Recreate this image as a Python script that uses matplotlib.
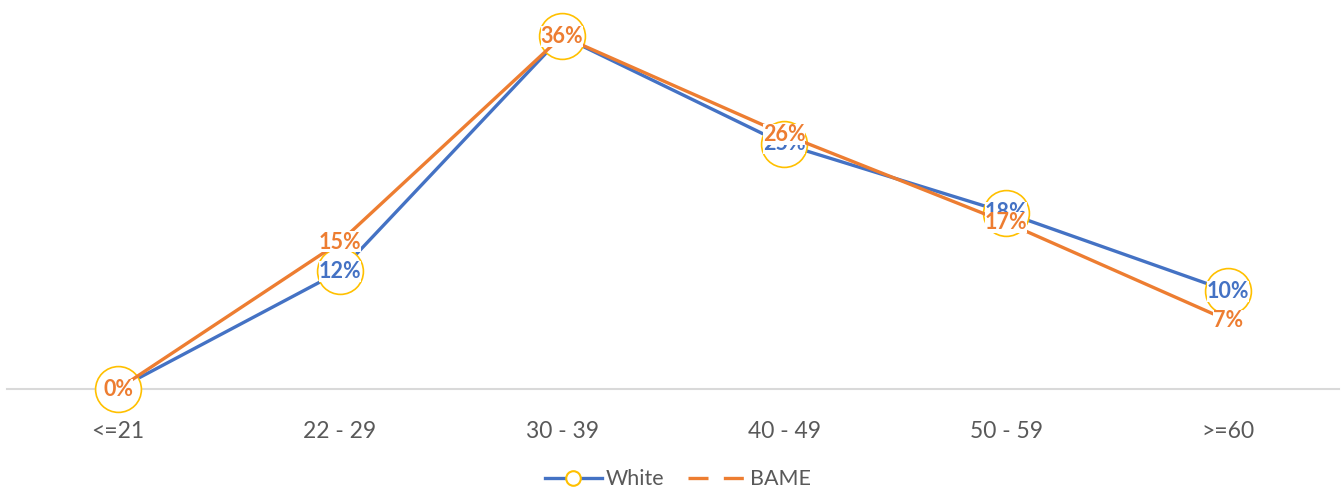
import matplotlib.pyplot as plt
from matplotlib.lines import Line2D

plt.rcParams['font.family'] = ['Lato', 'DejaVu Sans']

age_bands = ["<=21", "22 - 29", "30 - 39", "40 - 49", "50 - 59", ">=60"]
white = [0, 12, 36, 25, 18, 10]
bame = [0, 15, 36, 26, 17, 7]

BLUE = "#4472C4"
ORANGE = "#ED7D31"
GOLD = "#FFC000"

fig = plt.figure(figsize=(13.42, 4.9), dpi=100)
ax = fig.add_axes([7 / 1342, 1 - 389 / 490, 1332 / 1342, 379 / 490])

x = range(len(age_bands))
ax.plot(x, white, color=BLUE, lw=2.4, marker="o", ms=33, mfc="white",
        mec=GOLD, mew=1.2, zorder=2, clip_on=False)
ax.plot(x, bame, color=ORANGE, lw=2.4, zorder=3, clip_on=False)

# value labels sit on the points, with a tight white backing
box = dict(boxstyle="square,pad=0.0", fc="white", ec="none")
for i, v in enumerate(white):
    ax.text(i, v, f"{v}%", color=BLUE, fontsize=15.5, fontweight="bold",
            ha="center", va="center", bbox=box, zorder=4)
for i, v in enumerate(bame):
    ax.text(i, v, f"{v}%", color=ORANGE, fontsize=15.5, fontweight="bold",
            ha="center", va="center", bbox=box, zorder=5)

ax.set_xlim(-0.5, 5.5)
ax.set_ylim(0, 379 / 9.8)
ax.set_xticks(list(x))
ax.set_xticklabels(age_bands, fontsize=16.5, color="#595959")
ax.tick_params(axis="x", length=0, pad=23)
ax.set_yticks([])
for s in ["top", "right", "left"]:
    ax.spines[s].set_visible(False)
ax.spines["bottom"].set_color("#D9D9D9")
ax.spines["bottom"].set_linewidth(1.5)
ax.spines["bottom"].set_zorder(1)

handles = [
    Line2D([], [], color=BLUE, lw=2.4, marker="o", ms=10.5, mfc="white",
           mec=GOLD, mew=1.5),
    Line2D([], [], color=ORANGE, lw=2.4, ls=(0, (6, 4.6))),
]
fig.legend(handles, ["White", "BAME"], loc="center", bbox_to_anchor=(0.505, 0.022),
           ncol=2, frameon=False, fontsize=15.5, labelcolor="#595959",
           handlelength=2.65, columnspacing=1.1, handletextpad=0.2)

fig.savefig("out.png", dpi=100)
